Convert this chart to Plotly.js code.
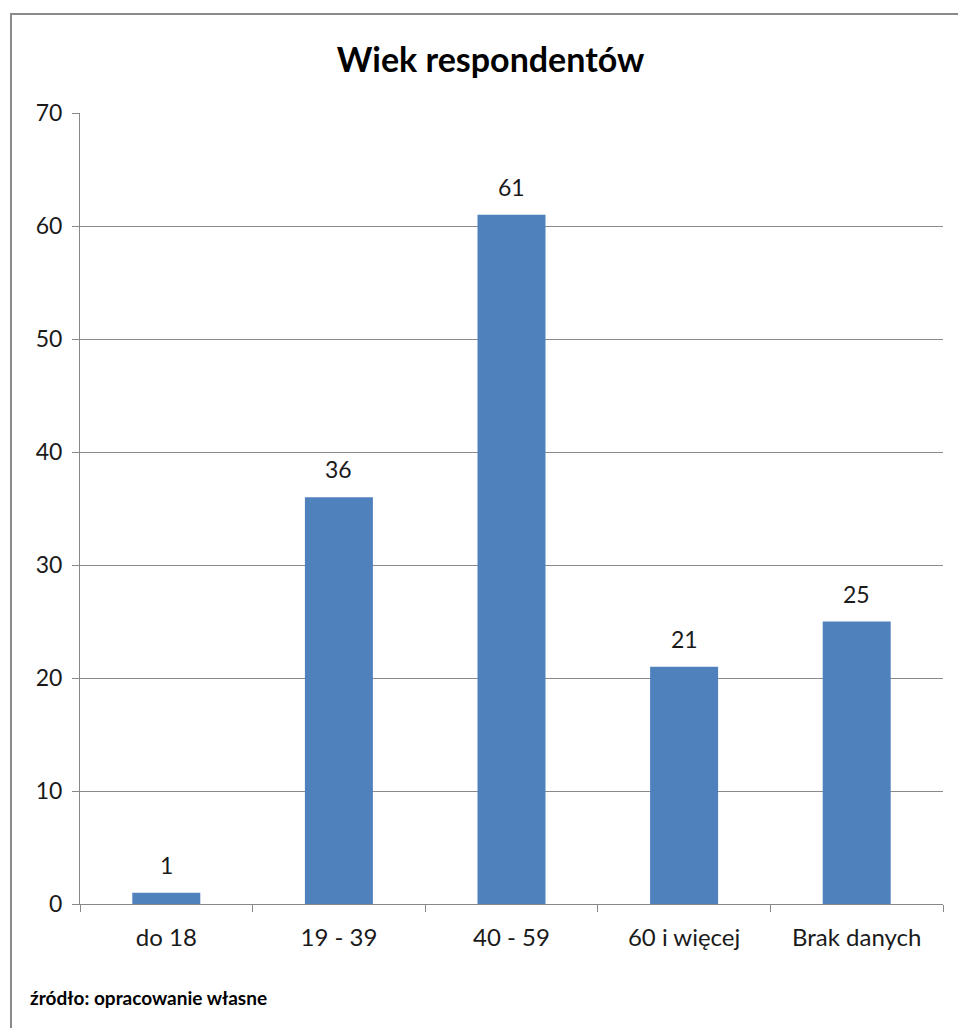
<!DOCTYPE html>
<html>
<head>
<meta charset="utf-8">
<script src="https://cdn.plot.ly/plotly-3.0.1.min.js"></script>
<style>
  html, body { margin: 0; padding: 0; background: #fff; }
  #wrap { position: relative; width: 958px; height: 1028px; }
  #chart { position: absolute; left: 0; top: 0; width: 958px; height: 1028px; }
  #frame { position: absolute; left: 10px; top: 13px; width: 960px; height: 1030px;
           border-top: 2px solid #8a8a8a; border-left: 2px solid #8a8a8a; pointer-events: none; }
</style>
</head>
<body>
<div id="wrap">
  <div id="chart"></div>
  <div id="frame"></div>
</div>
<script>
const categories = ["do 18", "19 - 39", "40 - 59", "60 i więcej", "Brak danych"];
const values = [1, 36, 61, 21, 25];
const yTicks = [0, 10, 20, 30, 40, 50, 60, 70];
const titleText = "Wiek respondentów";
const sourceText = "źródło: opracowanie własne";

const font = "Lato, 'Open Sans', sans-serif";
const txtColor = "#1a1a1a";

const trace = {
  type: "bar",
  x: categories,
  y: values,
  marker: { color: "#4F81BD" },
  hoverinfo: "x+y"
};

const labelAnnotations = categories.map((c, i) => ({
  x: c, y: values[i], xref: "x", yref: "y",
  text: String(values[i]),
  showarrow: false,
  yanchor: "bottom",
  yshift: 12,
  font: { family: font, size: 23, color: txtColor }
}));

const layout = {
  width: 958,
  height: 1028,
  margin: { l: 80, r: 15, t: 113, b: 124 },
  paper_bgcolor: "#fff",
  plot_bgcolor: "#fff",
  bargap: 0.606,
  showlegend: false,
  font: { family: font, size: 23, color: txtColor },
  title: {
    text: "<b>" + titleText + "</b>",
    font: { family: font, size: 34, color: "#000" },
    x: 0.512, xanchor: "center",
    y: 1 - 60 / 1028, yanchor: "middle"
  },
  xaxis: {
    type: "category",
    tickson: "boundaries",
    ticks: "outside",
    ticklen: 7,
    tickcolor: "#888",
    showline: true,
    linecolor: "#888",
    linewidth: 1,
    showgrid: false,
    ticklabelstandoff: 12,
    tickfont: { family: font, size: 24, color: txtColor },
    fixedrange: true
  },
  yaxis: {
    range: [0, 70],
    tickvals: yTicks,
    ticks: "outside",
    ticklen: 7,
    tickcolor: "#888",
    showline: true,
    linecolor: "#888",
    linewidth: 1,
    showgrid: true,
    gridcolor: "#8a8a8a",
    gridwidth: 1,
    zeroline: false,
    ticklabelstandoff: 5,
    tickfont: { family: font, size: 23, color: txtColor },
    fixedrange: true
  },
  annotations: labelAnnotations.concat([{
    text: "<b>" + sourceText + "</b>",
    xref: "paper", yref: "paper",
    x: (28 - 80) / 863, y: -(997 - 904) / 791,
    xanchor: "left", yanchor: "middle",
    showarrow: false,
    font: { family: font, size: 19, color: "#000" }
  }])
};

Plotly.newPlot("chart", [trace], layout, { displayModeBar: false, staticPlot: true });
</script>
</body>
</html>
